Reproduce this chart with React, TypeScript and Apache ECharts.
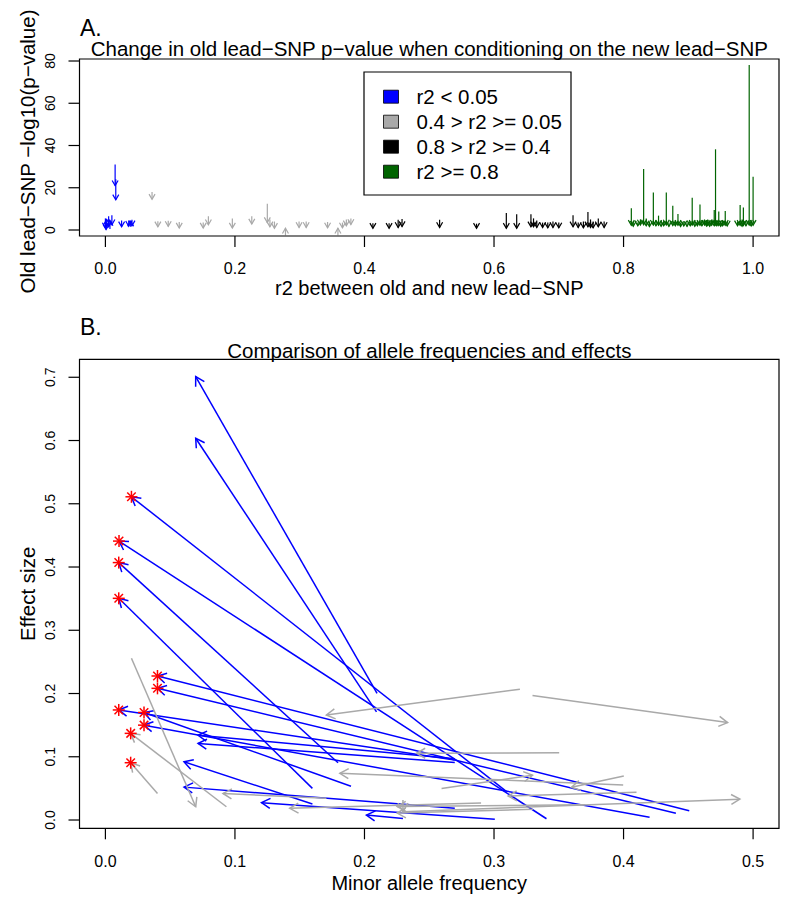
import React, { useEffect, useRef } from "react";
import * as echarts from "echarts";

const FONT = "'Liberation Sans', Arial, Helvetica, sans-serif";

// ---------- Panel A data ----------
const aBlueR2 = [0.0, 0.002, 0.005, 0.007, 0.01, 0.001, 0.015, 0.016, 0.025, 0.036, 0.041, 0.039];
const aBlueOld = [5.5, 1.0, 6.5, 0.5, 7.0, 3.0, 31.0, 24.0, 4.5, 4.5, 4.8, 1.5];
const aBlueNew = [1.0, 5.0, 1.5, 4.5, 2.5, 0.2, 21.0, 14.3, 1.5, 1.8, 2.0, 4.2];

const aGrayR2 = [0.072, 0.081, 0.097, 0.114, 0.151, 0.159, 0.196, 0.226, 0.25, 0.254, 0.261, 0.278, 0.299, 0.31, 0.343, 0.359, 0.366, 0.372, 0.379];
const aGrayOld = [18.0, 4.2, 4.4, 3.8, 3.5, 6.5, 5.5, 6.5, 12.4, 5.0, 4.0, -2.5, 4.0, 4.0, 3.8, -2.5, 3.5, 5.0, 5.5];
const aGrayNew = [14.5, 1.5, 1.7, 0.9, 0.9, 2.5, 0.9, 2.8, 3.5, 1.5, 0.8, 0.8, 1.2, 1.2, 1.0, 0.8, 1.0, 2.0, 2.6];

const aBlackR2 = [0.413, 0.438, 0.452, 0.458, 0.516, 0.573, 0.619, 0.635, 0.657, 0.661, 0.666, 0.675, 0.683, 0.691, 0.7, 0.722, 0.73, 0.738, 0.745, 0.749, 0.753, 0.761, 0.77];
const aBlackOld = [3.2, 3.2, 4.8, 5.2, 4.8, 3.0, 8.0, 7.5, 7.5, 5.5, 4.5, 3.5, 3.5, 4.0, 3.5, 7.0, 3.5, 4.0, 8.5, 5.0, 4.0, 5.5, 4.0];
const aBlackNew = [0.8, 0.8, 1.2, 1.6, 1.2, 0.8, 0.8, 0.8, 1.5, 1.5, 1.2, 1.2, 1.0, 1.2, 1.0, 1.5, 1.2, 1.0, 1.5, 1.2, 1.0, 1.5, 1.2];

const aGreenR2 = [0.812, 0.815, 0.822, 0.826, 0.831, 0.835, 0.84, 0.846, 0.85, 0.854, 0.858, 0.862, 0.866, 0.87, 0.876, 0.88, 0.884, 0.888, 0.893, 0.898, 0.903, 0.906, 0.91, 0.914, 0.918, 0.921, 0.925, 0.928, 0.93, 0.933, 0.936, 0.94, 0.942, 0.944, 0.947, 0.95, 0.953, 0.957, 0.96, 0.976, 0.98, 0.983, 0.985, 0.989, 0.994, 0.997, 1.0];
const aGreenOld = [10.3, 4.0, 3.5, 5.0, 28.9, 5.5, 4.0, 17.8, 4.0, 6.8, 3.5, 4.0, 17.8, 3.5, 11.5, 4.0, 7.6, 3.5, 3.5, 3.5, 3.5, 15.3, 4.0, 3.5, 12.1, 4.5, 5.0, 4.7, 5.0, 4.0, 5.0, 9.5, 38.2, 4.5, 8.7, 4.0, 4.5, 9.0, 4.0, 4.0, 11.8, 5.0, 10.6, 4.0, 78.1, 4.0, 25.2];
const aGreenNew = [2.2, 1.8, 2.0, 2.4, 2.5, 2.0, 1.6, 2.3, 2.0, 2.2, 1.8, 2.0, 2.4, 1.7, 2.1, 2.0, 2.2, 1.6, 1.9, 1.7, 2.0, 2.3, 1.8, 2.0, 2.2, 2.0, 2.3, 1.9, 2.1, 1.8, 2.2, 2.0, 2.4, 2.0, 2.1, 1.8, 2.0, 2.2, 1.9, 2.0, 2.2, 1.8, 2.1, 2.0, 2.3, 1.9, 2.2];

const aLegendLabels = ["r2 < 0.05", "0.4 > r2 >= 0.05", "0.8 > r2 >= 0.4", "r2 >= 0.8"];
const aColors = ["#0000FF", "#A9A9A9", "#000000", "#006400"];
const aXTicks = [0, 0.2, 0.4, 0.6, 0.8, 1.0];
const aYTicks = [0, 20, 40, 60, 80];
const aXLim = [-0.04, 1.04];
const aYLim = [-2.84, 80.95];

// ---------- Panel B data ----------
const bBlueFromMaf = [0.2097, 0.2093, 0.3097, 0.3405, 0.1796, 0.1598, 0.4507, 0.4404, 0.2697, 0.1896, 0.4201, 0.2697, 0.2697, 0.1598, 0.2697, 0.3006, 0.2297];
const bBlueFromEff = [0.2003, 0.171, 0.045, 0.002, 0.0906, 0.05, 0.0147, 0.0106, 0.0949, 0.0533, 0.0043, 0.097, 0.091, 0.0253, 0.0187, 0.0011, 0.0025];
const bBlueToMaf = [0.0697, 0.0697, 0.0201, 0.0105, 0.0103, 0.0103, 0.0402, 0.0402, 0.0103, 0.0298, 0.0298, 0.0715, 0.0715, 0.0607, 0.0607, 0.1205, 0.2015];
const bBlueToEff = [0.701, 0.6036, 0.511, 0.441, 0.407, 0.3505, 0.2277, 0.2082, 0.174, 0.17, 0.15, 0.134, 0.121, 0.092, 0.052, 0.0274, 0.0079];

const bGrayFromMaf = [0.0201, 0.0934, 0.0402, 0.32, 0.3297, 0.3503, 0.4002, 0.2595, 0.3997, 0.41, 0.23, 0.1706, 0.29, 0.2297, 0.37, 0.33];
const bGrayFromEff = [0.2557, 0.021, 0.042, 0.2067, 0.197, 0.1064, 0.0696, 0.05, 0.0553, 0.0438, 0.013, 0.0343, 0.027, 0.0316, 0.024, 0.017];
const bGrayToMaf = [0.0697, 0.0195, 0.0195, 0.1706, 0.4803, 0.2402, 0.3598, 0.3297, 0.181, 0.3109, 0.4898, 0.0908, 0.1423, 0.2297, 0.2252, 0.2252];
const bGrayToEff = [0.021, 0.137, 0.0906, 0.166, 0.154, 0.1055, 0.0517, 0.0707, 0.0739, 0.0379, 0.033, 0.042, 0.0185, 0.0132, 0.0215, 0.011];

const bStarMaf = [0.0201, 0.0105, 0.0103, 0.0103, 0.0402, 0.0402, 0.0103, 0.0298, 0.0298, 0.0195, 0.0195];
const bStarEff = [0.511, 0.441, 0.407, 0.3505, 0.2277, 0.2082, 0.174, 0.17, 0.15, 0.137, 0.0906];

const bXTicks = [0, 0.1, 0.2, 0.3, 0.4, 0.5];
const bYTicks = [0, 0.1, 0.2, 0.3, 0.4, 0.5, 0.6, 0.7];
const bXLim = [-0.02, 0.52];
const bYLim = [-0.0131, 0.7284];

// ---------- layout ----------
const BOX_A = { left: 79.5, top: 59, width: 699.5, height: 177 };
const BOX_B = { left: 79.5, top: 359.3, width: 699.5, height: 469 };
const PAD = 14; // grid extends beyond the plot box so tick marks sit inside it
const TICK_LEN = 11;
const TICK_W = 1.2;

function rows(x0: number[], y0: number[], x1: number[], y1: number[]) {
  return x0.map((v, i) => [v, y0[i], x1[i], y1[i]]);
}

function padLim(lim: number[], px: number) {
  const e = (PAD * (lim[1] - lim[0])) / px;
  return [lim[0] - e, lim[1] + e];
}

function arrowRender(headLen: number, lw: number, color: string) {
  return (_params: any, api: any) => {
    const p0 = api.coord([api.value(0), api.value(1)]);
    const p1 = api.coord([api.value(2), api.value(3)]);
    const ang = Math.atan2(p1[1] - p0[1], p1[0] - p0[0]);
    const a1 = ang + Math.PI - Math.PI / 6;
    const a2 = ang + Math.PI + Math.PI / 6;
    const h1 = [p1[0] + headLen * Math.cos(a1), p1[1] + headLen * Math.sin(a1)];
    const h2 = [p1[0] + headLen * Math.cos(a2), p1[1] + headLen * Math.sin(a2)];
    const style = { stroke: color, lineWidth: lw, fill: "none" };
    return {
      type: "group",
      children: [
        { type: "line", shape: { x1: p0[0], y1: p0[1], x2: p1[0], y2: p1[1] }, style },
        { type: "polyline", shape: { points: [h1, p1, h2] }, style },
      ],
    };
  };
}

function starRender(_params: any, api: any) {
  const p = api.coord([api.value(0), api.value(1)]);
  const r = 6;
  const d = r * Math.SQRT1_2;
  const style = { stroke: "#FF0000", lineWidth: 1.5 };
  const seg = (x1: number, y1: number, x2: number, y2: number) => ({
    type: "line",
    shape: { x1: p[0] + x1, y1: p[1] + y1, x2: p[0] + x2, y2: p[1] + y2 },
    style,
  });
  return {
    type: "group",
    children: [seg(-r, 0, r, 0), seg(0, -r, 0, r), seg(-d, -d, d, d), seg(-d, d, d, -d)],
  };
}

function boxRender(_params: any, api: any) {
  const p0 = api.coord([api.value(0), api.value(1)]);
  const p1 = api.coord([api.value(2), api.value(3)]);
  return {
    type: "rect",
    shape: { x: p0[0], y: p1[1], width: p1[0] - p0[0], height: p0[1] - p1[1] },
    style: { fill: "none", stroke: "#000", lineWidth: 1.2 },
  };
}

// outward R-style tick marks drawn as thin filled bars
function tickRender(dir: "x" | "y") {
  return (_params: any, api: any) => {
    const p = api.coord([api.value(0), api.value(1)]);
    const shape = dir === "x"
      ? { x: p[0] - TICK_W / 2, y: p[1], width: TICK_W, height: TICK_LEN }
      : { x: p[0] - TICK_LEN, y: p[1] - TICK_W / 2, width: TICK_LEN, height: TICK_W };
    return {
      type: "group",
      children: [{ type: "rect", shape, style: { fill: "#000", stroke: "none" } }],
    };
  };
}

const nameStyle = (fs: number, extra: any = {}) => ({ color: "#000", fontFamily: FONT, fontSize: fs, ...extra });

function baseAxis(gridIndex: number, lim: number[], ticks: number[], extra: any) {
  return {
    gridIndex,
    type: "value",
    min: lim[0],
    max: lim[1],
    axisLine: { show: false, onZero: false },
    axisTick: { show: false },
    splitLine: { show: false },
    nameMoveOverlap: false,
    ...extra,
    axisLabel: { color: "#000", fontFamily: FONT, customValues: ticks, ...extra.axisLabel },
  };
}

function frameSeries(gi: number, xT: number[], yT: number[], xLim: number[], yLim: number[]) {
  return [
    {
      type: "custom", xAxisIndex: gi, yAxisIndex: gi, silent: true, clip: false, z: 6,
      data: [[xLim[0], yLim[0], xLim[1], yLim[1]]], encode: { x: [0, 2], y: [1, 3] }, renderItem: boxRender,
    },
    {
      type: "custom", xAxisIndex: gi, yAxisIndex: gi, silent: true, clip: false, z: 6,
      data: xT.map((v) => [v, yLim[0]]), encode: { x: 0, y: 1 }, renderItem: tickRender("x"),
    },
    {
      type: "custom", xAxisIndex: gi, yAxisIndex: gi, silent: true, clip: false, z: 6,
      data: yT.map((v) => [xLim[0], v]), encode: { x: 0, y: 1 }, renderItem: tickRender("y"),
    },
  ];
}

export default function App() {
  const ref = useRef<HTMLDivElement>(null);
  useEffect(() => {
    document.body.style.margin = "0";
    if (!ref.current) return;
    const chart = echarts.init(ref.current, null, { renderer: "svg" });

    const aGroups = [
      rows(aBlueR2, aBlueOld, aBlueR2, aBlueNew),
      rows(aGrayR2, aGrayOld, aGrayR2, aGrayNew),
      rows(aBlackR2, aBlackOld, aBlackR2, aBlackNew),
      rows(aGreenR2, aGreenOld, aGreenR2, aGreenNew),
    ];

    const seriesA = aGroups.map((data, i) => ({
      type: "custom",
      name: aLegendLabels[i],
      xAxisIndex: 0,
      yAxisIndex: 0,
      data,
      encode: { x: [0, 2], y: [1, 3] },
      renderItem: arrowRender(6, 1.2, aColors[i]),
      clip: false,
      z: 2,
    }));

    const legendChildren: any[] = [
      {
        type: "rect",
        shape: { x: 364, y: 72, width: 207, height: 123 },
        style: { fill: "#fff", stroke: "#000", lineWidth: 1.2 },
      },
    ];
    aLegendLabels.forEach((lab, i) => {
      const cy = 96.7 + 25 * i;
      legendChildren.push({
        type: "rect",
        shape: { x: 383.5, y: cy - 6.5, width: 15, height: 13 },
        style: { fill: aColors[i], stroke: "#000", lineWidth: 0.8 },
      });
      legendChildren.push({
        type: "text",
        x: 416.5,
        y: cy,
        style: { text: lab, fill: "#000", fontSize: 20.5, fontFamily: FONT, verticalAlign: "middle", align: "left" },
      });
    });

    const gridOf = (b: any) => ({ left: b.left - PAD, top: b.top - PAD, width: b.width + 2 * PAD, height: b.height + 2 * PAD });

    const option: any = {
      animation: false,
      backgroundColor: "#fff",
      grid: [gridOf(BOX_A), gridOf(BOX_B)],
      xAxis: [
        baseAxis(0, padLim(aXLim, BOX_A.width), aXTicks, {
          position: "bottom",
          axisLabel: { fontSize: 16, margin: 24 - PAD, formatter: (v: number) => v.toFixed(1) },
          name: "r2 between old and new lead\u2212SNP", nameLocation: "middle", nameGap: 42 - PAD,
          nameTextStyle: nameStyle(20),
        }),
        baseAxis(1, padLim(bXLim, BOX_B.width), bXTicks, {
          position: "bottom",
          axisLabel: { fontSize: 16, margin: 25 - PAD, formatter: (v: number) => v.toFixed(1) },
          name: "Minor allele frequency", nameLocation: "middle", nameGap: 45 - PAD,
          nameTextStyle: nameStyle(20),
        }),
      ],
      yAxis: [
        baseAxis(0, padLim(aYLim, BOX_A.height), aYTicks, {
          position: "left",
          axisLabel: { fontSize: 14, rotate: 90, margin: 23 - PAD, formatter: (v: number) => String(Math.round(v)) },
          name: "Old lead\u2212SNP \u2212log10(p\u2212value)", nameLocation: "middle", nameRotate: 90, nameGap: 42 - PAD,
          nameTextStyle: nameStyle(20.5, { padding: [0, 8, 0, 0] }),
        }),
        baseAxis(1, padLim(bYLim, BOX_B.height), bYTicks, {
          position: "left",
          axisLabel: { fontSize: 14, rotate: 90, margin: 23 - PAD, formatter: (v: number) => v.toFixed(1) },
          name: "Effect size", nameLocation: "middle", nameRotate: 90, nameGap: 42 - PAD,
          nameTextStyle: nameStyle(20.5),
        }),
      ],
      graphic: [
        { type: "text", x: 80, y: 27.5, style: { text: "A.", fill: "#000", fontSize: 23, fontFamily: FONT, verticalAlign: "middle" } },
        { type: "text", x: 429.3, y: 48, style: { text: "Change in old lead\u2212SNP p\u2212value when conditioning on the new lead\u2212SNP", fill: "#000", fontSize: 20.5, fontFamily: FONT, align: "center", verticalAlign: "middle" } },
        { type: "text", x: 80, y: 326.7, style: { text: "B.", fill: "#000", fontSize: 23, fontFamily: FONT, verticalAlign: "middle" } },
        { type: "text", x: 429.3, y: 350, style: { text: "Comparison of allele frequencies and effects", fill: "#000", fontSize: 20.5, fontFamily: FONT, align: "center", verticalAlign: "middle" } },
        { type: "group", z: 100, children: legendChildren },
      ],
      series: [
        ...seriesA,
        ...frameSeries(0, aXTicks, aYTicks, aXLim, aYLim),
        ...frameSeries(1, bXTicks, bYTicks, bXLim, bYLim),
        {
          type: "custom", name: "blue", xAxisIndex: 1, yAxisIndex: 1,
          data: rows(bBlueFromMaf, bBlueFromEff, bBlueToMaf, bBlueToEff),
          encode: { x: [0, 2], y: [1, 3] },
          renderItem: arrowRender(10, 1.5, "#0000FF"), clip: false, z: 2,
        },
        {
          type: "custom", name: "gray", xAxisIndex: 1, yAxisIndex: 1,
          data: rows(bGrayFromMaf, bGrayFromEff, bGrayToMaf, bGrayToEff),
          encode: { x: [0, 2], y: [1, 3] },
          renderItem: arrowRender(10, 1.5, "#A9A9A9"), clip: false, z: 3,
        },
        {
          type: "custom", name: "stars", xAxisIndex: 1, yAxisIndex: 1,
          data: bStarMaf.map((m, i) => [m, bStarEff[i]]),
          encode: { x: 0, y: 1 },
          renderItem: starRender, clip: false, z: 4,
        },
      ],
    };
    chart.setOption(option);
    return () => chart.dispose();
  }, []);
  return <div ref={ref} style={{ width: 800, height: 910 }} />;
}
